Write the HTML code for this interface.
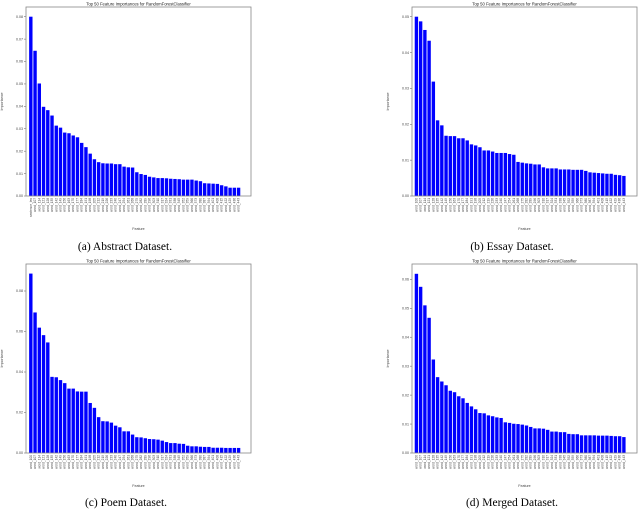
<!DOCTYPE html>
<html><head><meta charset="utf-8"><style>
html,body{margin:0;padding:0;background:#fff;}
svg{display:block;}
text{font-family:"Liberation Sans",sans-serif;}
.cap{font-family:"Liberation Serif",serif;font-size:11.5px;fill:#000;}
</style></head><body>
<svg id="fig" width="640" height="511" viewBox="0 0 640 511"></svg>
<script>
const abstractValues=[0.080,0.0648,0.0502,0.0398,0.0383,0.0359,0.0314,0.0305,0.0283,0.0280,0.0270,0.0262,0.0237,0.0218,0.0189,0.0164,0.0151,0.0146,0.0145,0.0145,0.0142,0.0142,0.0131,0.0128,0.0127,0.0106,0.0098,0.0094,0.0086,0.0083,0.0080,0.0080,0.0079,0.0077,0.0076,0.0075,0.0073,0.0073,0.0073,0.0069,0.0066,0.0057,0.0056,0.0055,0.0054,0.0048,0.0043,0.0037,0.0037,0.0037];
const essayValues=[0.050,0.0487,0.0463,0.0433,0.0319,0.0211,0.0197,0.0168,0.0167,0.0167,0.0161,0.0161,0.0155,0.0144,0.0141,0.0136,0.0127,0.0127,0.0124,0.0120,0.0120,0.0120,0.0117,0.0115,0.0095,0.0093,0.0091,0.0090,0.0088,0.0088,0.0080,0.0077,0.0077,0.0077,0.0074,0.0074,0.0074,0.0073,0.0073,0.0073,0.0070,0.0066,0.0065,0.0064,0.0063,0.0062,0.0062,0.0059,0.0058,0.0056];
const poemValues=[0.0886,0.0694,0.0619,0.0582,0.0546,0.0376,0.0374,0.0360,0.0345,0.0318,0.0318,0.0304,0.0303,0.0303,0.0247,0.0223,0.0177,0.0157,0.0156,0.0150,0.0135,0.0127,0.0107,0.0107,0.0091,0.0078,0.0077,0.0073,0.0069,0.0068,0.0066,0.0061,0.0054,0.0049,0.0049,0.0046,0.0045,0.0036,0.0033,0.0033,0.0031,0.0030,0.0030,0.0026,0.0026,0.0026,0.0025,0.0025,0.0025,0.0025];
const mergedValues=[0.0619,0.0574,0.0510,0.0467,0.0323,0.0262,0.0247,0.0234,0.0215,0.0210,0.0196,0.0189,0.0173,0.0161,0.0151,0.0138,0.0137,0.0130,0.0127,0.0123,0.0121,0.0106,0.0104,0.0101,0.0100,0.0098,0.0095,0.0090,0.0085,0.0085,0.0084,0.0080,0.0074,0.0074,0.0072,0.0072,0.0066,0.0065,0.0065,0.0061,0.0061,0.0061,0.0061,0.0060,0.0060,0.0060,0.0059,0.0058,0.0058,0.0055];
const abstractTicks=[0,0.01,0.02,0.03,0.04,0.05,0.06,0.07,0.08];
const essayTicks=[0,0.01,0.02,0.03,0.04,0.05];
const poemTicks=[0,0.02,0.04,0.06,0.08];
const mergedTicks=[0,0.01,0.02,0.03,0.04,0.05,0.06];
const captions=["(a) Abstract Dataset.","(b) Essay Dataset.","(c) Poem Dataset.","(d) Merged Dataset."];
const NS="http://www.w3.org/2000/svg";
const svg=document.getElementById('fig');
function mk(tag,attrs,parent){const e=document.createElementNS(NS,tag);for(const k in attrs)e.setAttribute(k,attrs[k]);(parent||svg).appendChild(e);return e;}
const panels=[
 {vals:abstractValues,ticks:abstractTicks,l:26,r:251,t:7,b:196,yTop:0.08,yTopPx:16.7,bx0:28.7,bx1:240.7,cx:125,cy:250,ylx:3,name:'abstract'},
 {vals:essayValues,ticks:essayTicks,l:412,r:637,t:7,b:196,yTop:0.05,yTopPx:16.7,bx0:414.3,bx1:626,cx:512,cy:250,ylx:389,name:'essay'},
 {vals:poemValues,ticks:poemTicks,l:26,r:251,t:264,b:453,yTop:0.08,yTopPx:291,bx0:28.7,bx1:240.7,cx:126,cy:506,ylx:3,name:'poem'},
 {vals:mergedValues,ticks:mergedTicks,l:412,r:637,t:264,b:453,yTop:0.06,yTopPx:279.3,bx0:414.3,bx1:626,cx:512,cy:506,ylx:389,name:'merged'}
];
panels.forEach((p,pi)=>{
 const g=mk('g',{});
 
 
 const y=v=>p.b-(v/p.yTop)*(p.b-p.yTopPx);
 const n=p.vals.length;
 const pitch=(p.bx1-p.bx0)/n;
 const x=i=>p.bx0+i*pitch;
 p.vals.forEach((v,i)=>{
  const r=mk('rect',{x:x(i)+pitch*0.1,y:y(v),width:pitch*0.8,height:p.b-y(v),fill:'#0000ff'},g);
  
  
  const lb=mk('text',{x:0,y:0,'font-size':'3.2',fill:'#444','text-anchor':'end',transform:'translate('+(x(i)+pitch*0.5+1)+','+(p.b+2)+') rotate(-90)'},g);
  lb.textContent=(i==0&&pi==0)?'sentence_len':'word_'+(100+i*7);
  
  
 });
 p.ticks.forEach(t=>{
  mk('line',{x1:p.l-2,x2:p.l,y1:y(t),y2:y(t),stroke:'#555','stroke-width':0.5},g);
  const tl=mk('text',{x:p.l-3,y:y(t)+1.2,'font-size':'3.6',fill:'#444','text-anchor':'end'},g);
  tl.textContent=t.toFixed(2);
  
  
 });
 const fr=mk('rect',{x:p.l,y:p.t,width:p.r-p.l,height:p.b-p.t,fill:'none',stroke:'#888','stroke-width':0.8},g);
 
 
 const tt=mk('text',{x:(p.l+p.r)/2,y:p.t-1.5,'font-size':'4.2',fill:'#222','text-anchor':'middle'},g);
 tt.textContent='Top 50 Feature Importances for RandomForestClassifier';
 
 
 const xl=mk('text',{x:(p.l+p.r)/2,y:p.b+34,'font-size':'3.6',fill:'#444','text-anchor':'middle'},g);
 xl.textContent='Feature';
 
 
 const yl=mk('text',{x:0,y:0,'font-size':'3.6',fill:'#444','text-anchor':'middle',transform:'translate('+(p.ylx)+','+((p.t+p.b)/2)+') rotate(-90)'},g);
 yl.textContent='Importance';
 
 
 const c=mk('text',{x:p.cx,y:p.cy,'text-anchor':'middle','class':'cap'},g);
 c.textContent=captions[pi];
 
 
});
</script>
</body></html>
